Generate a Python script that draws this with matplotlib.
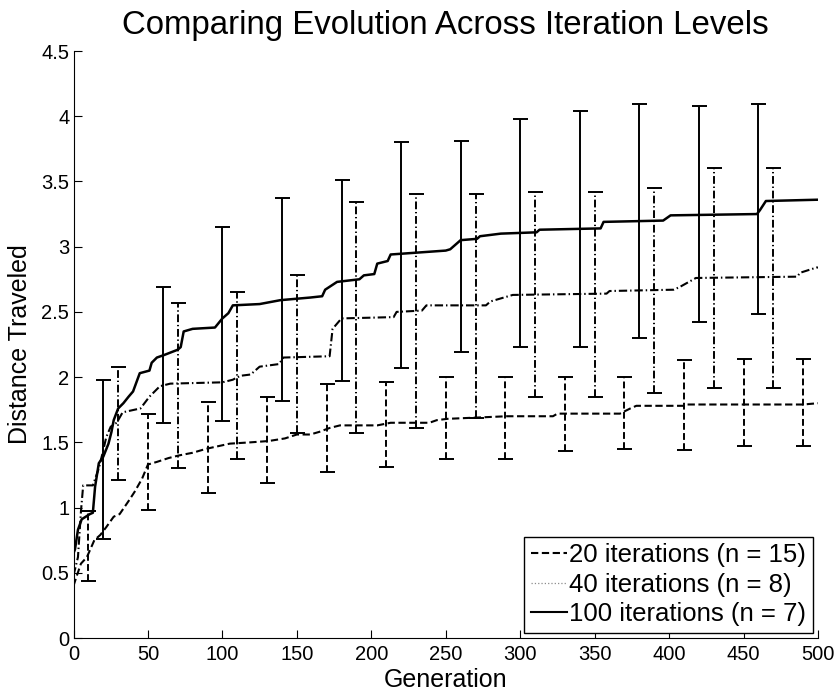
import numpy as np
import matplotlib
matplotlib.use("Agg")
import matplotlib.pyplot as plt
from matplotlib.lines import Line2D
from matplotlib.ticker import FormatStrFormatter

plt.rcParams['font.family'] = ['Liberation Sans', 'DejaVu Sans']

# mean distance per generation
gen_20 = [0, 2, 5, 9, 14, 18, 22, 27, 31, 37, 41, 46, 50, 56, 64, 71, 80, 89, 105, 119,
          131, 142, 150, 159, 165, 172, 179, 204, 213, 239, 244, 251, 291, 322, 325,
          367, 374, 378, 410, 412, 490, 500]
dist_20 = [0.40, 0.47, 0.57, 0.62, 0.75, 0.79, 0.85, 0.93, 0.95, 1.05, 1.12, 1.22, 1.33,
           1.35, 1.38, 1.40, 1.42, 1.45, 1.49, 1.50, 1.51, 1.53, 1.56, 1.56, 1.58, 1.61,
           1.63, 1.63, 1.65, 1.65, 1.67, 1.68, 1.70, 1.70, 1.72, 1.72, 1.76, 1.78, 1.78,
           1.79, 1.79, 1.80]

gen_40 = [0, 3, 5, 6.5, 13, 17, 20, 22, 25, 29, 33, 45, 51, 58, 65, 100, 107, 112, 119,
          125, 138, 141, 172, 174, 180, 215, 217, 234, 237, 277, 280, 295, 358, 360, 403,
          407, 418, 486, 488, 499, 500]
dist_40 = [0.48, 0.62, 0.97, 1.17, 1.17, 1.30, 1.44, 1.54, 1.62, 1.65, 1.73, 1.76, 1.85,
           1.93, 1.95, 1.96, 1.98, 2.01, 2.02, 2.08, 2.10, 2.15, 2.16, 2.37, 2.45, 2.46,
           2.50, 2.51, 2.55, 2.55, 2.58, 2.63, 2.64, 2.66, 2.67, 2.69, 2.76, 2.77, 2.80,
           2.84, 2.84]

gen_100 = [0, 1, 3, 5.5, 11, 13, 14.5, 17, 20, 23.5, 25.5, 27, 30, 33.5, 37, 40, 44.5, 51,
           52.5, 56, 61, 70, 72, 74, 80, 95, 100, 104, 107, 125, 139, 159, 167, 169, 177,
           192, 195, 202, 204, 211, 213, 250, 253, 260, 271, 273, 287, 311, 313, 354, 356,
           396, 401, 459, 461, 465, 500]
dist_100 = [0.65, 0.68, 0.83, 0.91, 0.95, 0.96, 1.16, 1.34, 1.39, 1.49, 1.58, 1.67, 1.76,
            1.80, 1.85, 1.89, 2.03, 2.05, 2.11, 2.15, 2.17, 2.21, 2.23, 2.35, 2.37, 2.38,
            2.45, 2.49, 2.55, 2.56, 2.59, 2.61, 2.62, 2.67, 2.73, 2.75, 2.78, 2.79, 2.87,
            2.89, 2.94, 2.97, 2.98, 3.05, 3.06, 3.08, 3.10, 3.11, 3.13, 3.14, 3.19, 3.20,
            3.24, 3.25, 3.28, 3.35, 3.36]

# error bars (low / high ends)
eb_x_20 = [10, 50, 90, 130, 170, 210, 250, 290, 330, 370, 410, 450, 490]
eb_lo_20 = [0.44, 0.98, 1.11, 1.19, 1.27, 1.31, 1.37, 1.37, 1.43, 1.45, 1.44, 1.47, 1.47]
eb_hi_20 = [0.97, 1.72, 1.81, 1.85, 1.95, 1.96, 2.00, 2.00, 2.00, 2.00, 2.13, 2.14, 2.14]

eb_x_40 = [30, 70, 110, 150, 190, 230, 270, 310, 350, 390, 430, 470]
eb_lo_40 = [1.21, 1.30, 1.37, 1.57, 1.57, 1.61, 1.69, 1.85, 1.85, 1.88, 1.92, 1.92]
eb_hi_40 = [2.08, 2.57, 2.65, 2.78, 3.34, 3.40, 3.40, 3.42, 3.42, 3.45, 3.60, 3.60]

eb_x_100 = [20, 60, 100, 140, 180, 220, 260, 300, 340, 380, 420, 460]
eb_lo_100 = [0.76, 1.65, 1.66, 1.82, 1.97, 2.07, 2.19, 2.23, 2.23, 2.30, 2.42, 2.48]
eb_hi_100 = [1.98, 2.69, 3.15, 3.37, 3.51, 3.80, 3.81, 3.98, 4.04, 4.09, 4.08, 4.09]

labels = ['20 iterations (n = 15)', '40 iterations (n = 8)', '100 iterations (n = 7)']

dash = (0, (3.5, 1.7))
dashdot = (0, (4, 1.4, 0.7, 1.4))

fig = plt.figure(figsize=(8.39, 6.93), dpi=100)
ax = fig.add_axes([73.5/839, 1 - 638/693, (818 - 73.5)/839, (638 - 51)/693])

series = [
    (gen_20, dist_20, eb_x_20, eb_lo_20, eb_hi_20, dash, 1.5),
    (gen_40, dist_40, eb_x_40, eb_lo_40, eb_hi_40, dashdot, 1.5),
    (gen_100, dist_100, eb_x_100, eb_lo_100, eb_hi_100, '-', 1.8),
]
for gx, gy, ex, elo, ehi, ls, lw in series:
    ax.plot(gx, gy, color='black', linestyle=ls, linewidth=lw)
    elo = np.array(elo); ehi = np.array(ehi)
    mid = (elo + ehi) / 2
    err = (ehi - elo) / 2
    _, caps, bars = ax.errorbar(ex, mid, yerr=err, fmt='none', ecolor='black',
                                elinewidth=1.4, capsize=5.4, capthick=1.4)
    for b in bars:
        b.set_linestyle(ls)

ax.set_xlim(0, 500)
ax.set_ylim(0, 4.5)
ax.set_xticks(np.arange(0, 501, 50))
ax.set_yticks(np.arange(0, 4.51, 0.5))
ax.yaxis.set_major_formatter(FormatStrFormatter('%g'))
for s in ['top', 'right']:
    ax.spines[s].set_visible(False)
ax.tick_params(direction='in', length=6, width=0.8, labelsize=14.5, pad=3)
ax.tick_params(axis='x', pad=5)

ax.set_title('Comparing Evolution Across Iteration Levels', fontsize=23.8, pad=12)
ax.set_xlabel('Generation', fontsize=18, labelpad=3)
ax.set_ylabel('Distance Traveled', fontsize=18, labelpad=7)

handles = [
    Line2D([], [], color='black', linestyle=dash, linewidth=1.5),
    Line2D([], [], color='0.55', linestyle=':', linewidth=0.9),
    Line2D([], [], color='black', linestyle='-', linewidth=1.5),
]
leg = ax.legend(handles, labels, loc='lower right', fontsize=18.5, fancybox=False,
                edgecolor='black', framealpha=1, borderpad=0.25, labelspacing=0.22,
                handlelength=1.4, handletextpad=0.1, borderaxespad=0.2)
leg.get_frame().set_linewidth(1.0)

fig.savefig('out.png', dpi=100)
